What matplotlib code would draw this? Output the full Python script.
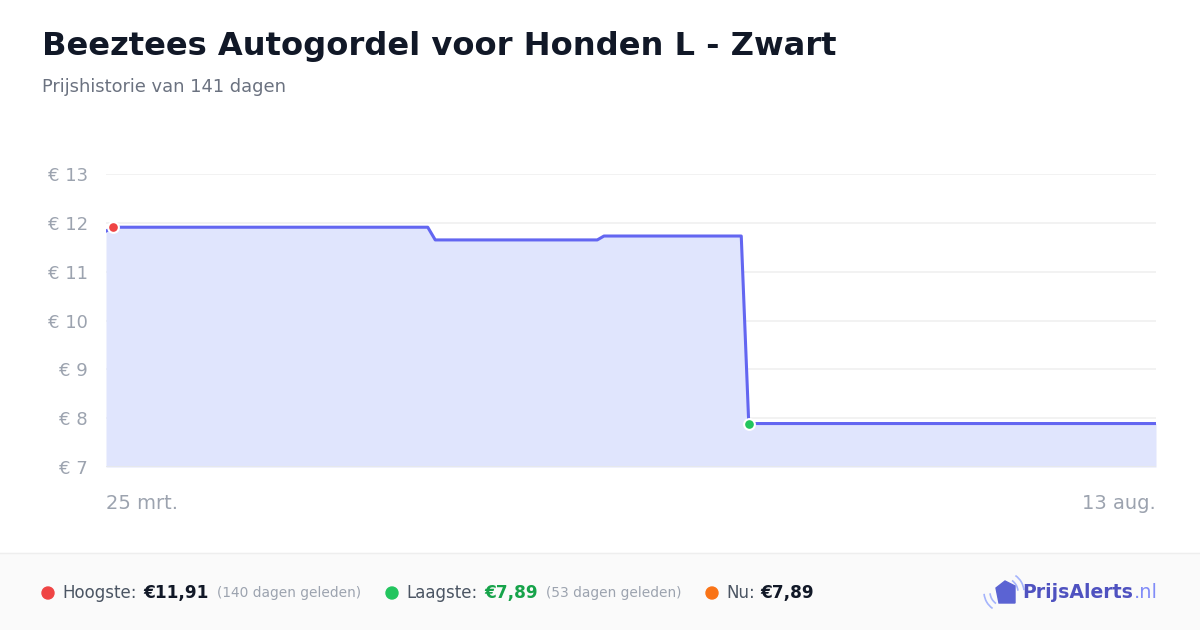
"""Price history card: Beeztees Autogordel voor Honden L - Zwart."""
import matplotlib
matplotlib.use("Agg")
import matplotlib.pyplot as plt
from matplotlib.patches import Polygon, Arc, Rectangle, Ellipse

plt.rcParams["font.family"] = ["DejaVu Sans"]

# ---- data --------------------------------------------------------------
days = [0, 0.9, 42.9, 43.9, 65.5, 66.4, 84.7, 85.7, 140]
prices = [11.83, 11.91, 11.91, 11.65, 11.65, 11.73, 11.73, 7.89, 7.89]
y_ticks = [7, 8, 9, 10, 11, 12, 13]
x_labels = ["25 mrt.", "13 aug."]
title = "Beeztees Autogordel voor Honden L - Zwart"
subtitle = "Prijshistorie van 141 dagen"
high_idx, low_idx = 1, 7

LINE = "#6366f1"
FILL = "#e0e5fd"
TICK = "#9ca3af"

fig = plt.figure(figsize=(12, 6.3), dpi=100)
W, H = 1200, 630

fig.text(42 / W, 1 - 47 / H, title, fontsize=23.1, fontweight="bold",
         color="#111827", va="center", ha="left")
fig.text(42 / W, 1 - 87 / H, subtitle, fontsize=12.9, color="#6b7280",
         va="center", ha="left")

ax = fig.add_axes([106 / W, 1 - 467 / H, 1050 / W, 293 / H])
ax.fill_between(days, prices, 7, color=FILL, lw=0, zorder=1)
ax.plot(days, prices, color=LINE, lw=2.2, zorder=3, solid_joinstyle="round")
ax.scatter([days[high_idx]], [prices[high_idx]], s=60, color="#ef4444",
           edgecolor="white", linewidth=1.5, zorder=4)
ax.scatter([days[low_idx]], [prices[low_idx]], s=60, color="#22c55e",
           edgecolor="white", linewidth=1.5, zorder=4)
ax.set_xlim(0, 140)
ax.set_ylim(7, 13)
ax.set_yticks(y_ticks)
ax.set_yticklabels([f"€ {v}" for v in y_ticks])
ax.set_xticks([])
for v in y_ticks:
    ax.axhline(v, color="#f0f0f0", lw=1.2, zorder=0 if v > 7 else 2)
ax.axhline(7, color="#e5e7eb", lw=1.2, zorder=2)
for s in ax.spines.values():
    s.set_visible(False)
ax.tick_params(axis="y", length=0, pad=13, labelsize=13, labelcolor=TICK)
ax.text(0, -0.125, x_labels[0], transform=ax.transAxes, ha="left",
        va="center", fontsize=14, color=TICK)
ax.text(1, -0.125, x_labels[1], transform=ax.transAxes, ha="right",
        va="center", fontsize=14, color=TICK)

# ---- footer ------------------------------------------------------------
fig.patches.append(Rectangle((0, 0), 1, 1 - 553 / H, transform=fig.transFigure,
                             color="#fafafa", zorder=0))
fig.lines.append(plt.Line2D([0, 1], [1 - 553 / H] * 2, transform=fig.transFigure,
                            color="#eeeeee", lw=1))
fy = 1 - 593 / H


def dot(x, c):
    fig.patches.append(Ellipse((x / W, fy), 12 / W, 12 / H,
                               transform=fig.transFigure, color=c, zorder=3))


def txt(x, s, **kw):
    fig.text(x / W, fy, s, va="center", ha="left", **kw)


dot(48, "#ef4444")
txt(62, "Hoogste:", fontsize=12, color="#4b5563")
txt(143, "€11,91", fontsize=12.2, color="#111827", fontweight="bold")
txt(217, "(140 dagen geleden)", fontsize=9.9, color=TICK)
dot(392, "#22c55e")
txt(406, "Laagste:", fontsize=12, color="#4b5563")
txt(484, "€7,89", fontsize=12.2, color="#16a34a", fontweight="bold")
txt(546, "(53 dagen geleden)", fontsize=9.9, color=TICK)
dot(712, "#f97316")
txt(726, "Nu:", fontsize=12, color="#4b5563")
txt(760, "€7,89", fontsize=12.2, color="#111827", fontweight="bold")

# logo
tag = Polygon([(996 / W, 1 - 588 / H), (1005 / W, 1 - 581 / H),
               (1015 / W, 1 - 586 / H), (1015 / W, 1 - 603 / H),
               (999 / W, 1 - 603 / H)], closed=True,
              transform=fig.transFigure, color="#5b63d3", zorder=3)
fig.patches.append(tag)
for r in (14, 20):
    fig.patches.append(Arc((1004 / W, 1 - 592 / H), 2 * r / W, 2 * r / H,
                           theta1=190, theta2=250, transform=fig.transFigure,
                           color="#a5b4fc", lw=1.2))
    fig.patches.append(Arc((1004 / W, 1 - 592 / H), 2 * r / W, 2 * r / H,
                           theta1=10, theta2=70, transform=fig.transFigure,
                           color="#a5b4fc", lw=1.2))
txt(1022, "PrijsAlerts", fontsize=13.6, fontweight="bold", color="#4f52c0")
txt(1134, ".nl", fontsize=14, color="#818cf8")

fig.savefig("out.png", dpi=100)
